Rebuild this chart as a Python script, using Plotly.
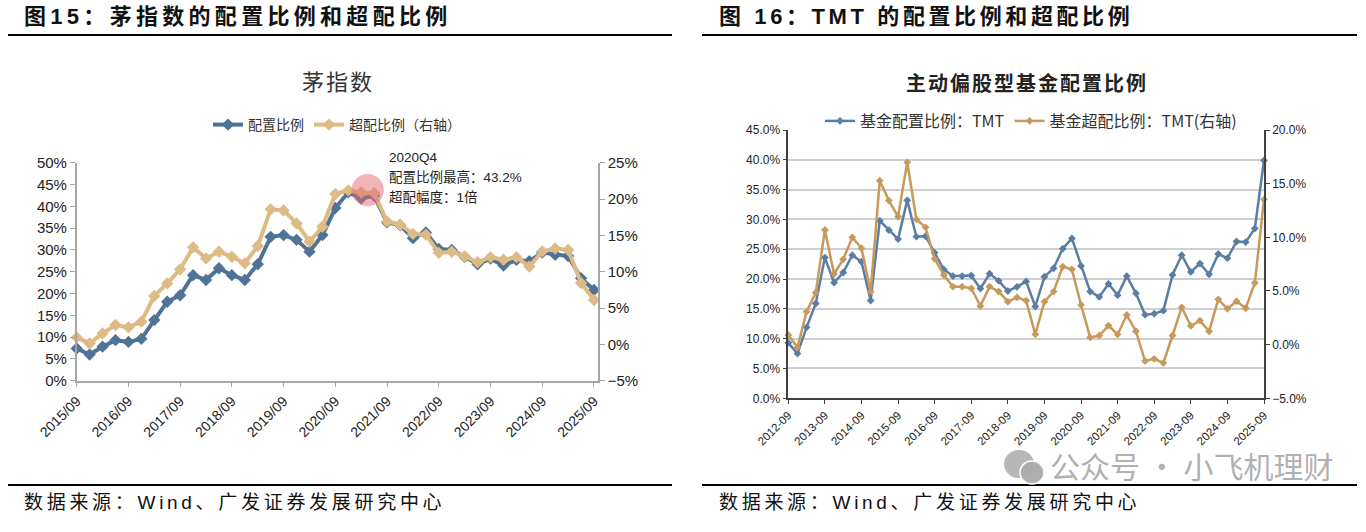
import plotly.graph_objects as go
import pandas as pd

# ---------------- data ----------------
# Left chart: 茅指数 (quarterly 2015/09 - 2025/09)
mao_quarters = [d.strftime("%Y/%m") for d in pd.date_range("2015-09-30", "2025-09-30", freq="QE-DEC")]
mao_alloc = [7.4, 6.0, 7.8, 9.3, 8.9, 9.6, 13.9, 18.1, 19.6, 24.2, 23.1, 25.8, 24.2, 23.1, 26.7,
             33.0, 33.4, 32.3, 29.6, 33.4, 39.6, 43.2, 41.8, 42.4, 36.3, 35.7, 32.7, 34.0, 30.2,
             30.0, 28.4, 26.7, 28.0, 26.4, 27.7, 27.4, 29.4, 28.9, 28.6, 23.5, 20.8]
mao_over = [0.96, 0.14, 1.51, 2.66, 2.34, 3.12, 6.65, 8.39, 10.32, 13.35, 11.83, 12.75, 12.06, 11.15,
            13.53, 18.58, 18.43, 16.65, 14.13, 16.19, 20.7, 21.2, 20.9, 20.8, 16.9, 16.5, 15.2, 15.1,
            12.6, 12.75, 12.1, 11.3, 12.0, 11.65, 12.0, 10.7, 12.8, 13.2, 13.0, 8.45, 6.1]
mao_ticks = mao_quarters[::4]

# Right chart: TMT (quarterly 2012-09 - 2025-09)
tmt_quarters = [d.strftime("%Y-%m") for d in pd.date_range("2012-09-30", "2025-09-30", freq="QE-DEC")]
tmt_alloc = [9.3, 7.5, 11.9, 15.9, 23.6, 19.4, 21.1, 24.0, 22.9, 16.4, 29.8, 28.2, 26.7, 33.2, 27.1,
             27.2, 24.4, 21.6, 20.5, 20.5, 20.6, 18.4, 20.9, 19.7, 18.0, 18.7, 19.6, 15.4, 20.4, 21.8,
             25.1, 26.8, 22.2, 17.9, 17.0, 19.2, 17.3, 20.5, 17.6, 14.0, 14.2, 14.7, 20.7, 24.0, 21.2,
             22.6, 20.8, 24.2, 23.5, 26.3, 26.2, 28.5, 39.9]
tmt_over = [0.9, -0.25, 3.07, 4.84, 10.68, 6.58, 7.95, 10.0, 8.98, 4.94, 15.28, 13.42, 11.93, 16.99,
            11.68, 10.93, 8.0, 6.49, 5.4, 5.4, 5.25, 3.6, 5.4, 4.94, 4.0, 4.4, 4.1, 0.96, 4.0, 4.94,
            7.27, 7.02, 3.7, 0.67, 0.85, 1.78, 0.95, 2.76, 1.25, -1.53, -1.32, -1.71, 0.85, 3.48, 1.74,
            2.24, 1.25, 4.22, 3.34, 4.05, 3.39, 5.75, 13.54]
tmt_ticks = tmt_quarters[::4]

# ---------------- styling ----------------
OFF = 0  # body margin removed by post_script below
W, H = 1366 - OFF, 532 - OFF
FONT = "Arial, 'Liberation Sans', 'Noto Sans CJK SC', sans-serif"
CJK = "'Noto Sans CJK SC', Arial, sans-serif"
L_BLUE, L_TAN = "#4F7396", "#DEBB84"
R_BLUE, R_TAN = "#5A7EA3", "#C79A5C"


def px(x):
    return (x - OFF) / W


def py(y):
    return 1 - (y - OFF) / H


def spaced(t, sp):
    return f'<span style="letter-spacing:{sp}px">{t}</span>'


fig = go.Figure()

# Left chart traces
fig.add_trace(go.Scatter(x=mao_quarters, y=mao_alloc, name="配置比例", xaxis="x", yaxis="y",
                         mode="lines+markers", line=dict(color=L_BLUE, width=4),
                         marker=dict(symbol="diamond", size=9.5, color=L_BLUE),
                         cliponaxis=False, legend="legend"))
fig.add_trace(go.Scatter(x=mao_quarters, y=mao_over, name="超配比例（右轴）", xaxis="x", yaxis="y2",
                         mode="lines+markers", line=dict(color=L_TAN, width=4),
                         marker=dict(symbol="diamond", size=9.5, color=L_TAN),
                         cliponaxis=False, legend="legend"))

# Right chart traces
fig.add_trace(go.Scatter(x=tmt_quarters, y=tmt_alloc, name="基金配置比例：TMT", xaxis="x2", yaxis="y3",
                         mode="lines+markers", line=dict(color=R_BLUE, width=2.5),
                         marker=dict(symbol="diamond", size=6, color=R_BLUE),
                         cliponaxis=False, legend="legend2"))
fig.add_trace(go.Scatter(x=tmt_quarters, y=tmt_over, name="基金超配比例：TMT(右轴)", xaxis="x2", yaxis="y4",
                         mode="lines+markers", line=dict(color=R_TAN, width=2.5),
                         marker=dict(symbol="diamond", size=6, color=R_TAN),
                         cliponaxis=False, legend="legend2"))

axis_gray = "#A6A6A6"
axis_dark = "#404040"

layout = dict(
    width=W, height=H, margin=dict(l=0, r=0, t=0, b=0, autoexpand=False),
    paper_bgcolor="white", plot_bgcolor="white",
    font=dict(family=FONT, color="#222"),
    xaxis=dict(domain=[px(76.7), px(598)], type="category", range=[0, 40.31], automargin=False,
               tickmode="array", tickvals=mao_ticks, ticktext=mao_ticks, tickangle=-45,
               ticks="outside", ticklen=5, tickcolor=axis_gray, showline=True, linecolor=axis_gray,
               linewidth=1.5, showgrid=False, zeroline=False, anchor="y",
               tickfont=dict(size=14, color="#222")),
    yaxis=dict(domain=[py(380.7), py(162.7)], range=[0, 50], dtick=5, ticksuffix="%", automargin=False,
               ticks="outside", ticklen=5, tickcolor=axis_gray, showline=True, linecolor=axis_gray,
               linewidth=1.5, showgrid=False, zeroline=False, anchor="x",
               tickfont=dict(size=15, color="#222")),
    yaxis2=dict(overlaying="y", side="right", range=[-5, 25], dtick=5, ticksuffix="%", automargin=False,
                ticks="outside", ticklen=5, tickcolor=axis_gray, showline=True, linecolor=axis_gray,
                linewidth=1.5, showgrid=False, zeroline=False, anchor="x",
                tickfont=dict(size=15, color="#222")),
    xaxis2=dict(domain=[px(788.3), px(1264)], type="category", range=[0, 52], automargin=False,
                tickmode="array", tickvals=tmt_ticks, ticktext=tmt_ticks, tickangle=-45,
                ticks="outside", ticklen=4, tickcolor=axis_dark, showline=True, linecolor=axis_dark,
                linewidth=1.5, showgrid=False, zeroline=False, anchor="y3",
                tickfont=dict(size=11.5, color="#222")),
    yaxis3=dict(domain=[py(398.3), py(130)], range=[0, 45], dtick=5, tickformat=".1f", ticksuffix="%",
                automargin=False,
                ticks="outside", ticklen=4, tickcolor=axis_dark, showline=True, linecolor=axis_dark,
                linewidth=1.5, showgrid=True, gridcolor="#CFCFCF", gridwidth=1.5, zeroline=False,
                anchor="x2", tickfont=dict(size=12, color="#222")),
    yaxis4=dict(overlaying="y3", side="right", range=[-5, 20], dtick=5, tickformat=".1f", ticksuffix="%",
                automargin=False,
                ticks="outside", ticklen=4, tickcolor=axis_dark, showline=True, linecolor=axis_dark,
                linewidth=1.5, showgrid=False, zeroline=False, anchor="x2",
                tickfont=dict(size=12, color="#222")),
    legend=dict(orientation="h", x=px(337), xanchor="center", y=py(125), yanchor="middle",
                font=dict(size=14, family=CJK, color="#333"), bgcolor="rgba(0,0,0,0)",
                itemwidth=30, tracegroupgap=0),
    legend2=dict(orientation="h", x=px(1031), xanchor="center", y=py(121), yanchor="middle",
                 font=dict(size=16, family=CJK, color="#333"), bgcolor="rgba(0,0,0,0)",
                 itemwidth=30),
    showlegend=True,
)
fig.update_layout(**layout)

shapes = []
# heading/bottom rules
for x0, x1 in [(8, 672), (702, 1357)]:
    shapes.append(dict(type="line", xref="paper", yref="paper", x0=px(x0), x1=px(x1), y0=py(35), y1=py(35),
                       line=dict(color="black", width=2)))
    shapes.append(dict(type="line", xref="paper", yref="paper", x0=px(x0), x1=px(x1), y0=py(485), y1=py(485),
                       line=dict(color="black", width=2)))

# highlight circle near the peak allocation of 茅指数
peak_i = mao_alloc.index(max(mao_alloc))
cx = peak_i + 1.5
cy = max(mao_alloc) + 0.5
shapes.append(dict(type="circle", xref="x", yref="y", x0=cx - 1.25, x1=cx + 1.25, y0=cy - 3.7, y1=cy + 3.7,
                   fillcolor="rgba(228,105,115,0.5)", line=dict(width=0), layer="above"))

# watermark icon (two bubbles)
shapes.append(dict(type="circle", xref="paper", yref="paper", x0=px(1004), x1=px(1034), y0=py(478), y1=py(450),
                   fillcolor="rgba(170,170,170,0.85)", line=dict(width=0)))
shapes.append(dict(type="circle", xref="paper", yref="paper", x0=px(1020), x1=px(1044), y0=py(484), y1=py(461),
                   fillcolor="rgba(170,170,170,0.95)", line=dict(width=1.5, color="white")))
fig.update_layout(shapes=shapes)

ann = []
ann.append(dict(text="<b>" + spaced("图15：茅指数的配置比例和超配比例", 4.3) + "</b>", x=px(22), y=py(17),
                xref="paper", yref="paper", xanchor="left", yanchor="middle", showarrow=False,
                width=470, align="left", font=dict(size=22, family=FONT, color="#111")))
ann.append(dict(text="<b>" + spaced("图 16：TMT 的配置比例和超配比例", 3.6) + "</b>", x=px(717), y=py(17),
                xref="paper", yref="paper", xanchor="left", yanchor="middle", showarrow=False,
                width=460, align="left", font=dict(size=22, family=FONT, color="#111")))
ann.append(dict(text=spaced("茅指数", 2), x=px(338), y=py(80), xref="paper", yref="paper", showarrow=False,
                xanchor="center", yanchor="middle", width=110,
                font=dict(size=22, family=CJK, color="#333")))
ann.append(dict(text="<b>" + spaced("主动偏股型基金配置比例", 2) + "</b>", x=px(1027), y=py(82),
                xref="paper", yref="paper", showarrow=False, xanchor="center", yanchor="middle",
                width=290, font=dict(size=20, family=CJK, color="#222")))
for i, t in enumerate(["2020Q4", f"配置比例最高：{max(mao_alloc):.1f}%", "超配幅度：1倍"]):
    ann.append(dict(text=t, x=px(387), y=py(157 + 20 * i), xref="paper", yref="paper", showarrow=False,
                    xanchor="left", yanchor="middle", font=dict(size=13.5, family=FONT, color="#222")))
for x0 in [22, 717]:
    ann.append(dict(text=spaced("数据来源：Wind、广发证券发展研究中心", 3.7), x=px(x0), y=py(502),
                    xref="paper", yref="paper", showarrow=False, xanchor="left", yanchor="middle",
                    width=460, align="left", font=dict(size=19, family=FONT, color="#111")))
ann.append(dict(text="公众号 · 小飞机理财", x=px(1048), y=py(465), xref="paper", yref="paper", showarrow=False,
                xanchor="left", yanchor="middle", font=dict(size=30, family=CJK, color="rgba(150,150,150,0.75)")))
fig.update_layout(annotations=ann)

fig.write_html("out.html", config={"displayModeBar": False},
               post_script="document.body.style.margin='0px';")
